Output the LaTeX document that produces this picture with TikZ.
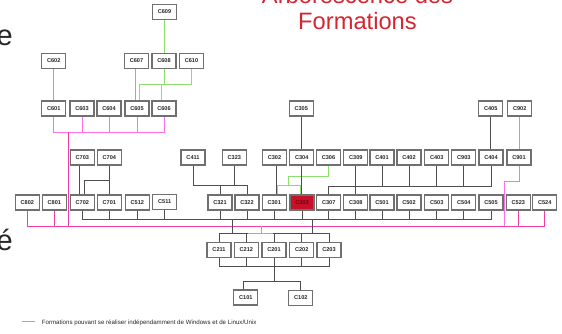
\documentclass[tikz,border=0pt]{standalone}
\usepackage{fontspec}
\setmainfont{Liberation Sans}
\usetikzlibrary{calc}

\definecolor{boxline}{RGB}{112,112,112}
\definecolor{wiregray}{RGB}{78,78,78}
\definecolor{pinkbus}{RGB}{240,62,162}
\definecolor{pinklight}{RGB}{255,112,232}
\definecolor{greenlink}{RGB}{140,222,110}
\definecolor{titlered}{RGB}{214,36,48}
\definecolor{hilite}{RGB}{200,16,40}
\definecolor{hilitetext}{RGB}{110,0,16}

\begin{document}
\begin{tikzpicture}[x=1pt,y=-1pt,
  course/.style={draw=boxline, line width=1.1pt, fill=white,
    minimum width=24pt, minimum height=15pt, inner sep=0pt,
    font=\fontsize{5.6}{6}\selectfont\bfseries, text=black!85},
  current/.style={course, fill=hilite, text=hilitetext},
  gw/.style={draw=wiregray, line width=0.8pt},
  pw/.style={draw=pinklight, line width=0.9pt},
  pb/.style={draw=pinkbus, line width=0.9pt},
  grw/.style={draw=greenlink, line width=0.9pt},
]
\useasboundingbox (0,0) rectangle (562,333);

% ---- title and clipped slide text ----
\node[anchor=base, inner sep=0pt, text=titlered,
  font=\fontsize{23.7}{26}\selectfont] (title1) at (357.5,3.5) {Arborescence des};
\node[anchor=base, inner sep=0pt, text=titlered,
  font=\fontsize{23.7}{26}\selectfont] (title2) at (357.5,29.3) {Formations};
\node[anchor=base east, inner sep=0pt, text=black!85,
  font=\fontsize{29}{30}\selectfont] (frag1) at (13,45) {e};
\node[anchor=base east, inner sep=0pt, text=black!85,
  font=\fontsize{29}{30}\selectfont] (frag2) at (13,250) {é};

% ---- course boxes ----
\node[course] (C609) at (164.5,12) {C609};

\node[course] (C602) at (53.7,61) {C602};
\node[course] (C607) at (136.5,61) {C607};
\node[course] (C608) at (164,61) {C608};
\node[course] (C610) at (191.5,61) {C610};

\node[course] (C601) at (53.7,108.5) {C601};
\node[course] (C603) at (82,108.5) {C603};
\node[course] (C604) at (109,108.5) {C604};
\node[course] (C605) at (137,108.5) {C605};
\node[course] (C606) at (164,108.5) {C606};
\node[course] (C305) at (301.2,108.5) {C305};
\node[course] (C405) at (490.7,108.5) {C405};
\node[course] (C902) at (519.7,108.5) {C902};

\node[course] (C703) at (82.3,157.5) {C703};
\node[course] (C704) at (109.3,157.5) {C704};
\node[course] (C411) at (193,157.5) {C411};
\node[course] (C323) at (234.3,157.5) {C323};
\node[course] (C302) at (274.5,157.5) {C302};
\node[course] (C304) at (301.7,157.5) {C304};
\node[course] (C306) at (328.5,157.5) {C306};
\node[course] (C309) at (355.8,157.5) {C309};
\node[course] (C401) at (382,157.5) {C401};
\node[course] (C402) at (409,157.5) {C402};
\node[course] (C403) at (436.7,157.5) {C403};
\node[course] (C903) at (463.8,157.5) {C903};
\node[course] (C404) at (491,157.5) {C404};
\node[course] (C901) at (519,157.5) {C901};

\node[course] (C802) at (27.3,202.5) {C802};
\node[course] (C801) at (54.3,202.5) {C801};
\node[course] (C702) at (82.3,202.5) {C702};
\node[course] (C701) at (109.3,202.5) {C701};
\node[course] (C512) at (137.3,202.5) {C512};
\node[course] (C511) at (164.7,202) {C511};
\node[course] (C321) at (220,202.5) {C321};
\node[course] (C322) at (247,202.5) {C322};
\node[course] (C301) at (274.2,202.5) {C301};
\node[current] (C303) at (302,202.5) {C303};
\node[course] (C307) at (328.7,202.5) {C307};
\node[course] (C308) at (355.8,202.5) {C308};
\node[course] (C501) at (382,202.5) {C501};
\node[course] (C502) at (409,202.5) {C502};
\node[course] (C503) at (436.7,202.5) {C503};
\node[course] (C504) at (463.8,202.5) {C504};
\node[course] (C505) at (491,202.5) {C505};
\node[course] (C523) at (518.3,202.5) {C523};
\node[course] (C524) at (544.7,202.5) {C524};

\node[course] (C211) at (219,250) {C211};
\node[course] (C212) at (246.3,250) {C212};
\node[course] (C201) at (274,250) {C201};
\node[course] (C202) at (301.7,250) {C202};
\node[course] (C203) at (329,250) {C203};

\node[course] (C101) at (245.8,297.5) {C101};
\node[course] (C102) at (300.8,298) {C102};

% ---- bus levels and junction points ----
\coordinate (gbus) at (0,84);
\coordinate (bus6) at (0,132.3);
\coordinate (jA) at (0,180.7);
\coordinate (jB) at (0,185.7);
\coordinate (jC) at (0,186);
\coordinate (jD) at (0,219.3);
\coordinate (pbus) at (0,226);
\coordinate (jE) at (0,233.3);
\coordinate (jF) at (0,266.7);
\coordinate (jG) at (0,281.5);

\coordinate (p605) at ($(C605.north)+(2.3,0)$);
\coordinate (p606) at ($(C606.north)+(-3,0)$);
\coordinate (p607) at ($(C607.south)+(-1.5,0)$);
\coordinate (trunk6) at (68.7,132.3);
\coordinate (k901) at (504.7,181.7);
\coordinate (p703) at ($(C703.south)+(-3,0)$);
\coordinate (p702) at ($(C702.north)+(2,0)$);
\coordinate (p302) at ($(C302.south)+(2,0)$);
\coordinate (gk1) at (288.3,176);
\coordinate (g301) at ($(C301.north)+(3.2,0)$);
\coordinate (g303) at ($(C303.north)+(-2,0)$);
\coordinate (t1) at (232,219.3);
\coordinate (t2) at (312.5,219.3);
\coordinate (t3) at (261.7,226);
\coordinate (pk1) at (248.3,233.3);
\coordinate (pk2) at (273.3,233.3);
\coordinate (p101) at ($(C101.north)+(-2.5,0)$);

% ---- green links ----
\draw[grw] (C609.south) -- (C609.south |- C608.north);
\draw[grw] (C608.south) -- (C608.south |- gbus);
\draw[grw] (C610.south) |- (p605 |- gbus) -- (p605);
\draw[grw] (p606) -- (p606 |- gbus);
\draw[grw] (C306.south) |- (gk1) -- (gk1 |- jB);

% ---- pink links (independent of the OS) ----
\draw[pw] (C602) -- (C601);
\draw[pw] (p607) -- (p607 |- C605.north);
\draw[pw] (C601.south) |- (C606.south |- bus6) -- (C606.south);
\foreach \n in {C603,C604,C605}
  \draw[pw] (\n.south) -- (\n.south |- bus6);
\draw[pw] (C902.south) -- (C902.south |- C901.north);
\draw[pw] (C901.south) |- (k901) -- (k901 |- pbus);

\draw[pb] (trunk6) -- (trunk6 |- pbus);
\draw[pb] (C802.south) |- (C524.south |- pbus) -- (C524.south);
\foreach \n in {C801,C523}
  \draw[pb] (\n.south) -- (\n.south |- pbus);

% ---- gray links ----
\draw[gw] (C305.south) -- (C305.south |- C304.north);
\draw[gw] (C304.south) -- (C304.south |- C303.north);
\draw[gw] (C405.south) -- (C405.south |- C404.north);
\draw[gw] (p703) -- (p703 |- C702.north);
\draw[gw] (C704.south) -- (C704.south |- C701.north);
\draw[gw] (C704.south |- jA) -| (p702);
\draw[gw] (C411.south) |- (C322.north |- jB) -- (C322.north);
\draw[gw] (C323.south) -- (C323.south |- jB);
\draw[gw] (C321.north) -- (C321.north |- jB);
\draw[gw] (p302) -- (p302 |- C301.north);
\draw[gw] (C309.south) -- (C309.south |- C308.north);
\draw[gw] (C307.north) |- (C404.south |- jC) -- (C404.south);
\foreach \n in {C401,C402,C403,C903}
  \draw[gw] (\n.south) -- (\n.south |- jC);

\draw[gw] (C702.south) |- (C505.south |- jD) -- (C505.south);
\foreach \n in {C701,C512,C511,C321,C322,C301,C303,C307,C308,C501,C502,C503,C504}
  \draw[gw] (\n.south) -- (\n.south |- jD);

\draw[gw] (t1) -- (t1 |- jE);
\draw[gw] (t2) -- (t2 |- jE);
\draw[gw] (C211.north) |- (C203.north |- jE) -- (C203.north);
\foreach \n in {C212,C201,C202}
  \draw[gw] (\n.north) -- (\n.north |- jE);

\draw[gw] (C211.south) |- (C203.south |- jF) -- (C203.south);
\foreach \n in {C212,C202}
  \draw[gw] (\n.south) -- (\n.south |- jF);
\draw[gw] (C201.south) -- (C201.south |- jG);
\draw[gw] (p101) |- (C102.north |- jG) -- (C102.north);

% green into C301 / C303, pink into the C2xx bus (drawn on top)
\draw[grw] (g301) |- (g303 |- jB) -- (g303);
\draw[pw] (t3) -- (t3 |- jE);
\draw[pw] (pk1) -- (pk2);

% ---- legend ----
\coordinate (lg1) at (21.7,321.7);
\coordinate (lg2) at (35,321.7);
\draw[pw] (lg1) -- (lg2);
\node[anchor=base west, inner sep=0pt, text=black!85,
  font=\fontsize{6.15}{7}\selectfont] (legend) at (41.7,324.3)
  {Formations pouvant se réaliser indépendamment de Windows et de Linux/Unix};
\end{tikzpicture}
\end{document}
